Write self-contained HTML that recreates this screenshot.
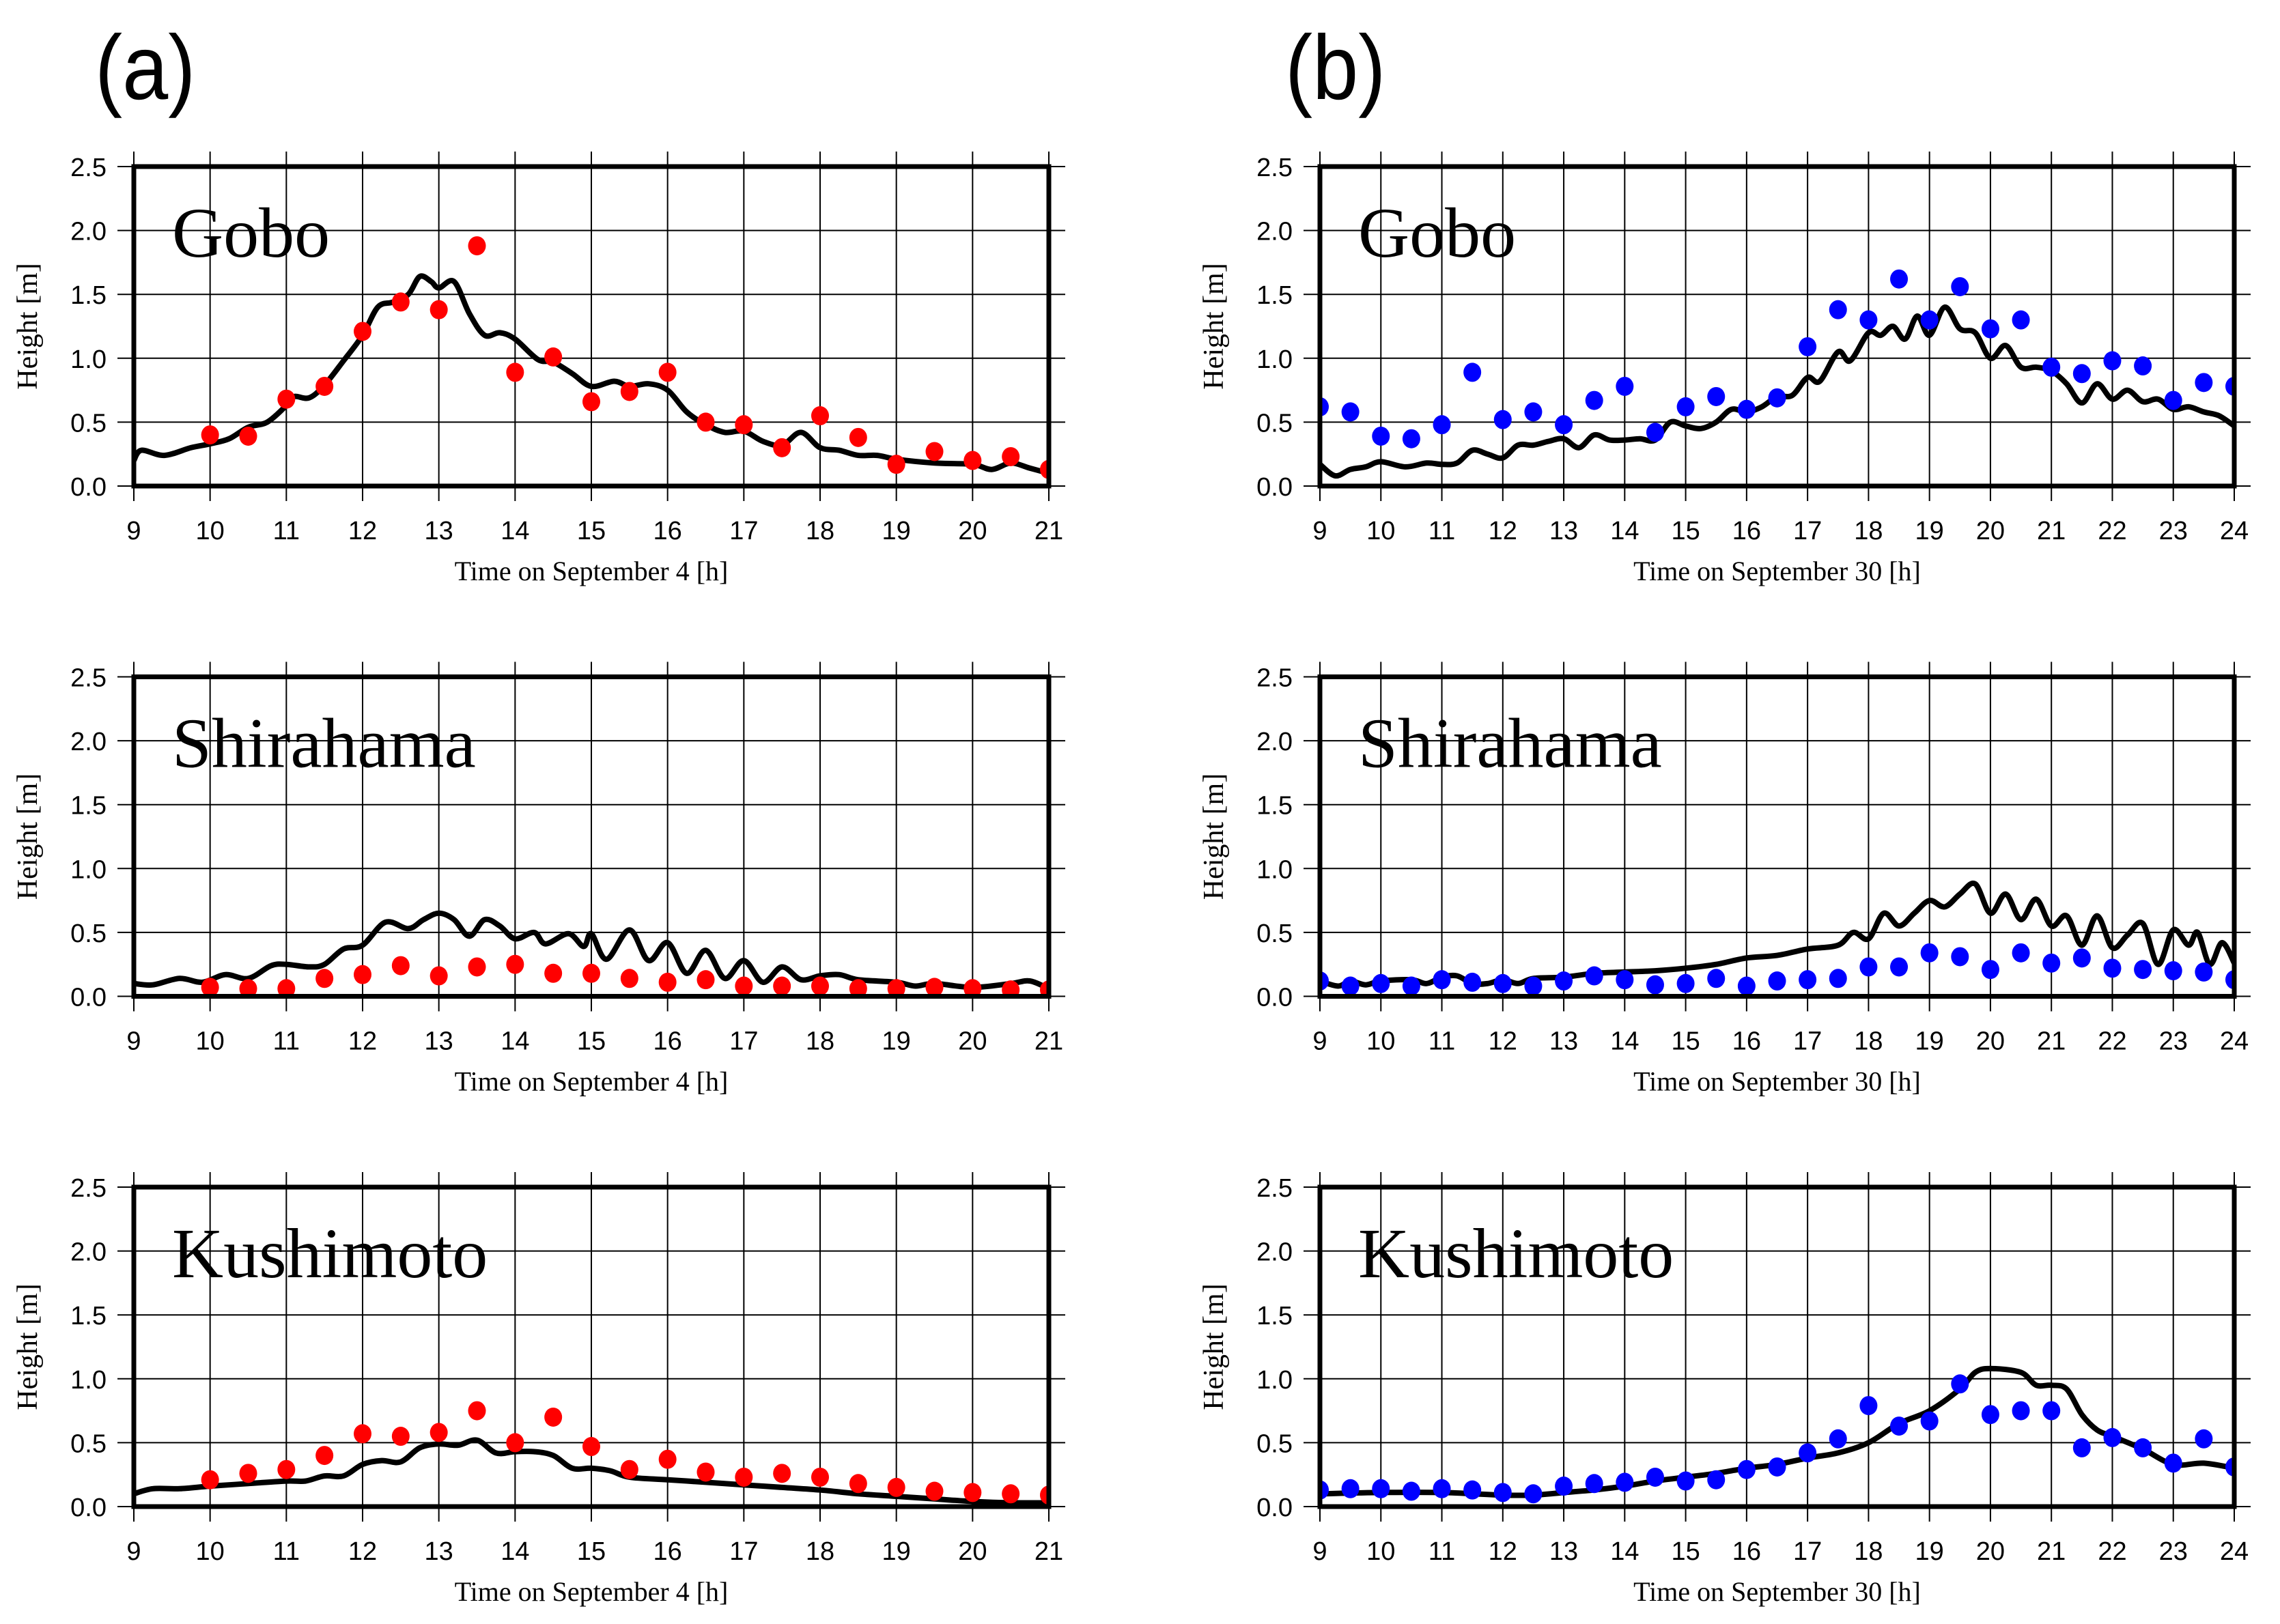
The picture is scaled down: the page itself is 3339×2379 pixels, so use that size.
<!DOCTYPE html>
<html><head><meta charset="utf-8">
<style>
html,body{margin:0;padding:0;background:#fff;}
svg{display:block;}
</style></head>
<body>
<svg id="fig" width="3339" height="2379" viewBox="0 0 3339 2379" xmlns="http://www.w3.org/2000/svg">
<rect width="3339" height="2379" fill="#fff"/>
<text x="139" y="145" font-family="Liberation Sans, sans-serif" font-size="134" transform="translate(139 0) scale(0.9 1) translate(-139 0)">(a)</text>
<text x="1882" y="145" font-family="Liberation Sans, sans-serif" font-size="134" transform="translate(1882 0) scale(0.9 1) translate(-1882 0)">(b)</text>
</svg>
<script>
// ---- data ----
const aGoboObsT=[10,10.5,11,11.5,12,12.5,13,13.5,14,14.5,15,15.5,16,16.5,17,17.5,18,18.5,19,19.5,20,20.5,21];
const aGoboObsV=[0.40,0.39,0.68,0.78,1.21,1.44,1.38,1.88,0.89,1.01,0.66,0.74,0.89,0.50,0.48,0.30,0.55,0.38,0.17,0.27,0.20,0.23,0.13];
const aGoboSimT=[9,9.1,9.4,9.75,10,10.25,10.5,10.75,11,11.1,11.3,11.5,11.75,12,12.2,12.4,12.6,12.75,12.9,13,13.2,13.4,13.6,13.8,14,14.3,14.5,14.75,15,15.3,15.5,15.75,16,16.25,16.5,16.75,17,17.25,17.5,17.75,18,18.25,18.5,18.75,19,19.5,20,20.25,20.5,20.75,21];
const aGoboSimV=[0.2,0.28,0.24,0.30,0.33,0.37,0.46,0.50,0.63,0.70,0.69,0.79,0.98,1.18,1.40,1.44,1.50,1.64,1.60,1.55,1.60,1.35,1.18,1.20,1.15,0.99,0.97,0.88,0.78,0.82,0.78,0.80,0.75,0.58,0.48,0.42,0.43,0.35,0.32,0.42,0.30,0.28,0.24,0.24,0.21,0.18,0.17,0.13,0.18,0.14,0.10];

const aShiraObsT=aGoboObsT.slice();
const aShiraObsV=[0.07,0.06,0.06,0.14,0.17,0.24,0.16,0.23,0.25,0.18,0.18,0.14,0.11,0.13,0.08,0.08,0.08,0.06,0.06,0.07,0.06,0.05,0.05];
const aShiraSimT=[9,9.25,9.6,9.9,10.2,10.5,10.8,11,11.3,11.5,11.75,12,12.3,12.6,12.8,13,13.2,13.4,13.6,13.8,14,14.25,14.4,14.7,14.9,15,15.2,15.5,15.75,16,16.25,16.5,16.75,17,17.25,17.5,17.75,18,18.25,18.5,19,19.25,19.5,20,20.5,20.75,21];
const aShiraSimV=[0.10,0.09,0.14,0.11,0.17,0.14,0.24,0.25,0.23,0.25,0.37,0.40,0.58,0.53,0.60,0.65,0.60,0.47,0.60,0.55,0.45,0.50,0.41,0.49,0.39,0.49,0.29,0.52,0.28,0.42,0.18,0.36,0.14,0.28,0.11,0.23,0.13,0.16,0.17,0.13,0.11,0.08,0.10,0.07,0.10,0.12,0.06];

const aKushiObsT=aGoboObsT.slice();
const aKushiObsV=[0.21,0.26,0.29,0.40,0.57,0.55,0.58,0.75,0.50,0.70,0.47,0.29,0.37,0.27,0.23,0.26,0.23,0.18,0.15,0.12,0.11,0.10,0.09];
const aKushiSimT=[9,9.25,9.6,10,10.5,11,11.25,11.5,11.75,12,12.25,12.5,12.75,13,13.25,13.5,13.75,14,14.25,14.5,14.75,15,15.25,15.5,16,16.5,17,17.5,18,18.5,19,19.5,20,20.5,21];
const aKushiSimV=[0.10,0.14,0.14,0.16,0.18,0.20,0.20,0.24,0.24,0.33,0.36,0.35,0.46,0.49,0.48,0.52,0.42,0.43,0.43,0.40,0.30,0.30,0.28,0.23,0.21,0.19,0.17,0.15,0.13,0.10,0.08,0.06,0.04,0.03,0.03];

const bObsT=[9,9.5,10,10.5,11,11.5,12,12.5,13,13.5,14,14.5,15,15.5,16,16.5,17,17.5,18,18.5,19,19.5,20,20.5,21,21.5,22,22.5,23,23.5,24];
const bGoboObsV=[0.62,0.58,0.39,0.37,0.48,0.89,0.52,0.58,0.48,0.67,0.78,0.42,0.62,0.70,0.60,0.69,1.09,1.38,1.30,1.62,1.30,1.56,1.23,1.30,0.93,0.88,0.98,0.94,0.67,0.81,0.78];
const bGoboSimT=[9,9.25,9.5,9.75,10,10.4,10.75,11,11.25,11.5,11.75,12,12.25,12.5,12.75,13,13.25,13.5,13.75,14,14.25,14.5,14.75,15,15.25,15.5,15.75,16,16.25,16.5,16.75,17,17.2,17.5,17.7,18,18.2,18.4,18.6,18.8,19,19.25,19.5,19.75,20,20.25,20.5,20.75,21,21.25,21.5,21.75,22,22.25,22.5,22.75,23,23.25,23.5,23.75,24];
const bGoboSimV=[0.17,0.08,0.13,0.15,0.19,0.15,0.18,0.17,0.18,0.28,0.25,0.22,0.32,0.32,0.35,0.37,0.30,0.40,0.36,0.36,0.37,0.36,0.50,0.47,0.45,0.50,0.60,0.58,0.62,0.70,0.71,0.85,0.82,1.05,0.98,1.20,1.18,1.25,1.15,1.33,1.18,1.40,1.23,1.20,1.00,1.10,0.93,0.93,0.90,0.80,0.65,0.80,0.68,0.75,0.66,0.68,0.60,0.62,0.58,0.55,0.47];

const bShiraObsV=[0.12,0.08,0.10,0.08,0.13,0.11,0.10,0.08,0.12,0.16,0.13,0.09,0.10,0.14,0.08,0.12,0.13,0.14,0.23,0.23,0.34,0.31,0.21,0.34,0.26,0.30,0.22,0.21,0.20,0.19,0.13];
const bShiraSimT=[9,9.3,9.5,9.75,10,10.5,10.75,11,11.25,11.5,11.75,12,12.25,12.5,13,13.5,14,14.5,15,15.5,16,16.5,17,17.5,17.75,18,18.25,18.5,18.75,19,19.25,19.5,19.75,20,20.25,20.5,20.75,21,21.25,21.5,21.75,22,22.25,22.5,22.75,23,23.25,23.4,23.6,23.8,24];
const bShiraSimV=[0.12,0.08,0.12,0.09,0.12,0.13,0.10,0.15,0.16,0.10,0.10,0.13,0.10,0.14,0.15,0.18,0.19,0.20,0.22,0.25,0.30,0.32,0.37,0.40,0.50,0.45,0.65,0.55,0.65,0.75,0.70,0.80,0.88,0.65,0.80,0.60,0.76,0.55,0.63,0.40,0.63,0.38,0.48,0.57,0.25,0.52,0.40,0.50,0.25,0.42,0.26];

const bKushiObsV=[0.13,0.14,0.14,0.12,0.14,0.13,0.11,0.10,0.16,0.18,0.19,0.23,0.20,0.21,0.29,0.31,0.42,0.53,0.79,0.63,0.67,0.96,0.72,0.75,0.75,0.46,0.54,0.46,0.34,0.53,0.31];
const bKushiSimT=[9,10,11,12,12.5,13,13.5,14,14.5,15,15.5,16,16.5,17,17.5,18,18.5,19,19.5,19.75,20,20.5,20.75,21,21.25,21.5,21.75,22,22.5,23,23.5,24];
const bKushiSimV=[0.10,0.11,0.11,0.09,0.09,0.11,0.13,0.16,0.20,0.23,0.26,0.30,0.33,0.38,0.42,0.50,0.65,0.75,0.92,1.05,1.08,1.05,0.95,0.95,0.92,0.72,0.60,0.55,0.45,0.33,0.34,0.30];

const yTicks=["0.0","0.5","1.0","1.5","2.0","2.5"];
const yTickVals=[0,0.5,1,1.5,2,2.5];
const xTitleA="Time on September 4 [h]";
const xTitleB="Time on September 30 [h]";
const stations=["Gobo","Shirahama","Kushimoto"];

// ---- drawing ----
const NS="http://www.w3.org/2000/svg";
const svg=document.getElementById('fig');
function mk(tag,attrs,parent){const e=document.createElementNS(NS,tag);for(const k in attrs)e.setAttribute(k,attrs[k]);(parent||svg).appendChild(e);return e;}

function smoothPath(pts){
  let d="M"+pts[0][0].toFixed(1)+","+pts[0][1].toFixed(1);
  for(let i=0;i<pts.length-1;i++){
    const p0=pts[Math.max(i-1,0)],p1=pts[i],p2=pts[i+1],p3=pts[Math.min(i+2,pts.length-1)];
    const c1=[p1[0]+(p2[0]-p0[0])/6,p1[1]+(p2[1]-p0[1])/6];
    const c2=[p2[0]-(p3[0]-p1[0])/6,p2[1]-(p3[1]-p1[1])/6];
    d+=" C"+c1[0].toFixed(1)+","+c1[1].toFixed(1)+" "+c2[0].toFixed(1)+","+c2[1].toFixed(1)+" "+p2[0].toFixed(1)+","+p2[1].toFixed(1);
  }
  return d;
}

let clipId=0;
function panel(px0,px1,y0,t0,t1,station,xTitle,obsT,obsV,simT,simV,color,key){
  const H=468, ytop=y0-H;
  const X=t=>px0+(t-t0)/(t1-t0)*(px1-px0);
  const Y=v=>y0-v/2.5*H;
  const g=mk('g',{});
  
  
  for(let h=t0;h<=t1;h++){
    const l=mk('line',{x1:X(h),x2:X(h),y1:ytop-22,y2:y0+22,stroke:'#000','stroke-width':2},g);
    
    
    const tx=mk('text',{x:X(h),y:y0+78,'text-anchor':'middle','font-family':'Liberation Sans, sans-serif','font-size':38},g);
    
    
    tx.textContent=String(h);
  }
  for(let i=0;i<yTickVals.length;i++){
    const v=yTickVals[i];
    const l=mk('line',{x1:px0-24,x2:px1+24,y1:Y(v),y2:Y(v),stroke:'#000','stroke-width':2},g);
    
    
    const tx=mk('text',{x:px0-40,y:Y(v)+14,'text-anchor':'end','font-family':'Liberation Sans, sans-serif','font-size':38},g);
    
    
    tx.textContent=yTicks[i];
  }
  const cid='c'+(clipId++);
  const cp=mk('clipPath',{id:cid},g);
  mk('rect',{x:px0,y:ytop,width:px1-px0,height:H},cp);
  const cg=mk('g',{'clip-path':'url(#'+cid+')'},g);
  const pts=simT.map((t,i)=>[X(t),Y(simV[i])]);
  const p=mk('path',{d:smoothPath(pts),fill:'none',stroke:'#000','stroke-width':8,'stroke-linejoin':'round','stroke-linecap':'round'},cg);
  
  
  for(let i=0;i<obsT.length;i++){
    const c=mk('ellipse',{cx:X(obsT[i]),cy:Y(obsV[i]),rx:13,ry:14,fill:color},cg);
    
    
  }
  const fr=mk('rect',{x:px0,y:ytop,width:px1-px0,height:H,fill:'none',stroke:'#000','stroke-width':7},g);
  
  
  const st=mk('text',{x:px0+56,y:ytop+132,'font-family':'Liberation Serif, serif','font-size':104},g);
  
  
  st.textContent=station;
  const xt=mk('text',{x:(px0+px1)/2,y:y0+138,'text-anchor':'middle','font-family':'Liberation Serif, serif','font-size':40},g);
  
  
  xt.textContent=xTitle;
  const cy=ytop+H/2, cx=px0-142;
  const yt=mk('text',{x:cx,y:cy,'text-anchor':'middle','font-family':'Liberation Serif, serif','font-size':42,transform:'rotate(-90 '+cx+' '+cy+')'},g);
  
  
  yt.textContent="Height [m]";
}

const yBase=[712,1459.5,2207];
panel(196,1536,yBase[0],9,21,stations[0],xTitleA,aGoboObsT,aGoboObsV,aGoboSimT,aGoboSimV,'#ff0000','a-gobo');
panel(196,1536,yBase[1],9,21,stations[1],xTitleA,aShiraObsT,aShiraObsV,aShiraSimT,aShiraSimV,'#ff0000','a-shirahama');
panel(196,1536,yBase[2],9,21,stations[2],xTitleA,aKushiObsT,aKushiObsV,aKushiSimT,aKushiSimV,'#ff0000','a-kushimoto');
panel(1933,3272,yBase[0],9,24,stations[0],xTitleB,bObsT,bGoboObsV,bGoboSimT,bGoboSimV,'#0000ff','b-gobo');
panel(1933,3272,yBase[1],9,24,stations[1],xTitleB,bObsT,bShiraObsV,bShiraSimT,bShiraSimV,'#0000ff','b-shirahama');
panel(1933,3272,yBase[2],9,24,stations[2],xTitleB,bObsT,bKushiObsV,bKushiSimT,bKushiSimV,'#0000ff','b-kushimoto');
</script>
</body></html>
